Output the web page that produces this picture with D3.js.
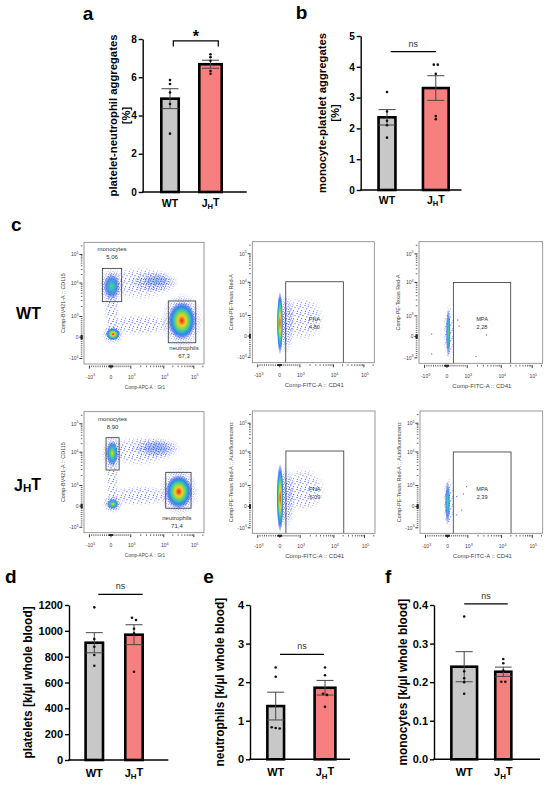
<!DOCTYPE html>
<html><head><meta charset="utf-8">
<script src="https://cdn.jsdelivr.net/npm/d3@7"></script>
<style>
body{margin:0;background:#fff;}
svg{display:block;font-family:"Liberation Sans",Arial,sans-serif;}
</style></head><body>
<svg id="c" width="550" height="787"></svg>
<script>
// ================= DATA =================
const groups = ["WT", "JHT"];

// a: platelet-neutrophil aggregates [%]
const pnaMean = [4.88, 6.68], pnaSem = [0.52, 0.21];
const pnaWT = [5.85, 5.65, 5.2, 4.6, 3.05], pnaJHT = [7.2, 7.05, 6.86, 6.33, 6.18];
const pnaTicks = [0, 2, 4, 6, 8];
// b: monocyte-platelet aggregates [%]
const mpaMean = [2.36, 3.31], mpaSem = [0.25, 0.40];
const mpaWT = [3.18, 2.55, 2.25, 2.1, 1.7], mpaJHT = [4.07, 4.07, 3.77, 2.4, 2.3];
const mpaTicks = [0, 1, 2, 3, 4, 5];
// d: platelets
const pltMean = [908, 970], pltSem = [78, 77];
const pltWT = [1182, 936, 877, 813, 730], pltJHT = [1101, 1084, 1016, 980, 683];
const pltTicks = [0, 200, 400, 600, 800, 1000, 1200];
// e: neutrophils
const neuMean = [1.38, 1.855], neuSem = [0.36, 0.19];
const neuWT = [2.38, 2.14, 0.83, 0.81, 0.80], neuJHT = [2.38, 2.18, 1.70, 1.67, 1.36];
const neuTicks = [0, 1, 2, 3, 4];
// f: monocytes
const monMean = [0.240, 0.227], monSem = [0.039, 0.012];
const monWT = [0.37, 0.228, 0.21, 0.20, 0.17], monJHT = [0.26, 0.249, 0.23, 0.201, 0.201];
const monTicks = [0, 0.1, 0.2, 0.3, 0.4];

// c: flow cytometry
const flowTickVals = [-1000, 0, 1000, 10000, 100000];
const flowTickText = [["-10","3"], ["0",""], ["10","3"], ["10","4"], ["10","5"]];
// gates: [name, percent, xmin, xmax, ymin, ymax]
const wtGates  = [["monocytes","5,06",-400,540,2780,32700], ["neutrophils","67,3",14100,116000,-260,2920]];
const jhtGates = [["monocytes","8,90",-230,410,2920,32500], ["neutrophils","71,4",11600,81000,-100,2490]];
const wtPnaGate  = [["PNA","4,80",297,21100,-6000,10400]];
const jhtPnaGate = [["PNA","6,09",297,21000,-6000,10800]];
const wtMpaGate  = [["MPA","2,28",320,20200,-6000,10000]];
const jhtMpaGate = [["MPA","2,39",280,20300,-6000,10000]];
// event clusters: [x, y, spreadX (decades), spreadY (decades), peak density level]
const wtGateClusters  = [[6000,12000,0.45,0.22,0],[30,8000,0.4,0.4,1],[40000,800,0.47,0.75,3],[100,150,0.35,0.3,3]];
const jhtGateClusters = [[6000,14000,0.5,0.25,0],[60,9300,0.3,0.4,2],[31600,700,0.45,0.7,3],[90,100,0.3,0.25,2]];
const wtPnaClusters  = [[10,635,0.15,1.25,3]];
const jhtPnaClusters = [[10,410,0.17,1.4,3]];
const wtMpaClusters  = [[70,180,0.12,1.1,1]];
const jhtMpaClusters = [[0,180,0.13,1.0,1]];
// sparse event regions: [x, y, spreadX, spreadY, density]
const wtGateSparse  = [[1900,10000,1.4,0.55,0],[5000,11000,0.8,0.35,1],[1900,600,1.3,0.5,0],[50,1600,0.35,1.0,0],[40000,800,0.7,1.1,1],[30,8000,0.6,0.6,1],[100,150,0.55,0.5,1]];
const jhtGateSparse = [[1900,11000,1.4,0.5,0],[6000,14000,0.8,0.35,1],[1900,500,1.3,0.5,0],[60,1600,0.3,1.0,0],[31600,700,0.65,1.0,1],[60,9300,0.5,0.6,1],[90,100,0.5,0.45,1]];
const wtPnaSparse  = [[1240,860,0.8,0.9,0],[300,635,0.45,1.2,1]];
const jhtPnaSparse = [[1240,790,0.8,0.9,0],[300,410,0.45,1.3,1]];
const wtMpaSparse  = [[100,180,0.26,1.3,0]];
const jhtMpaSparse = [[50,180,0.26,1.2,0]];
// isolated events
const wtMpaEvents  = [[-680,120],[530,800],[600,500],[3700,75],[1800,-940],[-680,-820]];
const jhtMpaEvents = [[450,470],[940,950],[700,-170],[450,-400],[780,600]];

// ================= SETUP =================
const svg = d3.select("#c");
const defs = svg.append("defs");
const FONT = '"Liberation Sans",Arial,sans-serif';

function radial(id, stops){
  const g = defs.append("radialGradient").attr("id", id);
  stops.forEach(s => g.append("stop").attr("offset", s[0]).attr("stop-color", s[1]).attr("stop-opacity", s[2] === undefined ? 1 : s[2]));
}
radial("lv3", [[0,"#e0241c"],[0.13,"#f2711e"],[0.27,"#f0cf28"],[0.43,"#8ed34a"],[0.58,"#2fc3b4"],[0.73,"#2d86ee"],[0.87,"#3355ee",0.5],[1,"#3355ee",0]]);
radial("lv2", [[0,"#e8d82a"],[0.22,"#7fd04c"],[0.45,"#2fc2b8"],[0.68,"#2e7fee",0.85],[0.85,"#3355ee",0.4],[1,"#3355ee",0]]);
radial("lv1", [[0,"#6fcf5a"],[0.3,"#2fbcc8"],[0.6,"#2f78ee",0.8],[0.85,"#3355ee",0.35],[1,"#3355ee",0]]);
radial("lv0", [[0,"#3a8ef0",0.5],[0.5,"#3366ee",0.3],[1,"#3355ee",0]]);
function pattern(id, size, pts, s){
  const p = defs.append("pattern").attr("id", id).attr("width", size).attr("height", size).attr("patternUnits", "userSpaceOnUse");
  pts.forEach(d => p.append("rect").attr("x", d[0]).attr("y", d[1]).attr("width", s).attr("height", s).attr("fill", "#2440f0"));
}
pattern("spk0", 8, [[0.5,1],[4.2,0.3],[6.5,3.1],[2.3,4.4],[5.1,6.2],[0.9,6.9],[3.6,2.2]], 1);
pattern("spk1", 5, [[0.3,0.4],[2.6,1.1],[4.1,2.4],[1.2,2.9],[3.2,3.9],[0.4,4.3]], 1);
const fg = defs.append("radialGradient").attr("id", "fadeGrad");
fg.append("stop").attr("offset", 0).attr("stop-color", "#fff").attr("stop-opacity", 1);
fg.append("stop").attr("offset", 0.6).attr("stop-color", "#fff").attr("stop-opacity", 0.8);
fg.append("stop").attr("offset", 1).attr("stop-color", "#fff").attr("stop-opacity", 0);
defs.append("mask").attr("id", "fade").attr("maskContentUnits", "objectBoundingBox")
  .append("rect").attr("width", 1).attr("height", 1).attr("fill", "url(#fadeGrad)");

// ================= BAR PANELS =================
const panels = [
  {letter:"a", mean:pnaMean, sem:pnaSem, pts:[pnaWT,pnaJHT], ticks:pnaTicks, ymax:8, fmt:d3.format("d"),
   title:["platelet-neutrophil aggregates","[%]"], sig:"*", sigY:7.9,
   L:{ax:142.7, yTop:39, y0:192, xEnd:246.7, cx:[170,210.5], bw:[20,25], titleX:[113,125.5], lx:82.7, ly:20,
      tickFs:10, catFs:10.5, catDy:14.5, titleFs:11.3, sigOff:[3.3,7.8]}},
  {letter:"b", mean:mpaMean, sem:mpaSem, pts:[mpaWT,mpaJHT], ticks:mpaTicks, ymax:5, fmt:d3.format("d"),
   title:["monocyte-platelet aggregates","[%]"], sig:"ns", sigY:4.49,
   L:{ax:360.7, yTop:36, y0:190, xEnd:461.5, cx:[387,435.8], bw:[19.5,28.3], titleX:[321.7,335.2], lx:295.7, ly:19,
      tickFs:10, catFs:10.5, catDy:14, titleFs:11.3, sigOff:[3.7,0.2]}},
  {letter:"d", mean:pltMean, sem:pltSem, pts:[pltWT,pltJHT], ticks:pltTicks, ymax:1200, fmt:d3.format("d"),
   title:["platelets [k/µl whole blood]"], sig:"ns", sigY:1282,
   L:{ax:69, yTop:605, y0:760, xEnd:168.3, cx:[94.3,134], bw:[20,20], titleX:[28.3], lx:5, ly:583,
      tickFs:11, catFs:11, catDy:17, titleFs:11.9, sigOff:[4,8.7]}},
  {letter:"e", mean:neuMean, sem:neuSem, pts:[neuWT,neuJHT], ticks:neuTicks, ymax:4, fmt:d3.format("d"),
   title:["neutrophils [k/µl whole blood]"], sig:"ns", sigY:2.72,
   L:{ax:250, yTop:605, y0:759.3, xEnd:350, cx:[275.7,325], bw:[19.3,23.4], titleX:[220], lx:203.3, ly:583,
      tickFs:11, catFs:11, catDy:17, titleFs:11.9, sigOff:[4.3,-1]}},
  {letter:"f", mean:monMean, sem:monSem, pts:[monWT,monJHT], ticks:monTicks, ymax:0.4, fmt:d3.format(".1f"),
   title:["monocytes [k/µl whole blood]"], sig:"ns", sigY:0.403,
   L:{ax:434, yTop:605, y0:759.3, xEnd:540, cx:[464.2,503.3], bw:[28.3,18.7], titleX:[402.7], lx:385, ly:583,
      tickFs:11, catFs:11, catDy:17, titleFs:11.9, sigOff:[0,4.4]}}
];
const barFill = ["#c8c8c8", "#f77f7f"];

function catLabel(sel, k){
  if (k === "JHT"){
    sel.append("tspan").text("J");
    sel.append("tspan").text("H").attr("font-size", "0.72em").attr("dy", "0.3em");
    sel.append("tspan").text("T").attr("dy", "-0.3em");
  } else sel.text(k);
}

panels.forEach(P => {
  const L = P.L;
  const g = svg.append("g");
  const y = d3.scaleLinear().domain([0, P.ymax]).range([L.y0, L.yTop]);
  const x = d3.scaleOrdinal().domain(groups).range(L.cx);
  const sw = 2.6;
  groups.forEach((k, i) => {
    g.append("rect")
      .attr("x", x(k) - L.bw[i]/2 + sw/2).attr("y", y(P.mean[i]))
      .attr("width", L.bw[i] - sw).attr("height", y(0) - y(P.mean[i]))
      .attr("fill", barFill[i]).attr("stroke", "#000").attr("stroke-width", sw);
  });
  groups.forEach((k, i) => {
    const cw = Math.min(17, L.bw[i] - 2);
    const top = y(P.mean[i] + P.sem[i]), bot = y(P.mean[i] - P.sem[i]);
    const eg = g.append("g").attr("stroke", "#474747").attr("stroke-width", 1);
    eg.append("line").attr("x1", x(k)).attr("x2", x(k)).attr("y1", top).attr("y2", bot);
    eg.append("line").attr("x1", x(k)-cw/2).attr("x2", x(k)+cw/2).attr("y1", top).attr("y2", top);
    eg.append("line").attr("x1", x(k)-cw/2).attr("x2", x(k)+cw/2).attr("y1", bot).attr("y2", bot);
  });
  groups.forEach((k, i) => {
    const vals = P.pts[i].slice().sort((a, b) => b - a);
    const rows = [];
    vals.forEach(v => {
      const last = rows[rows.length - 1];
      if (last && Math.abs(y(last[0]) - y(v)) < 2.6) last.push(v); else rows.push([v]);
    });
    rows.forEach(r => r.forEach((v, j) => {
      g.append("circle").attr("cx", x(k) + (j - (r.length - 1)/2) * 4).attr("cy", y(v))
        .attr("r", 1.3).attr("fill", "#111");
    }));
  });
  const ya = g.append("g").attr("transform", `translate(${L.ax},0)`)
    .call(d3.axisLeft(y).tickValues(P.ticks).tickSize(4).tickSizeOuter(0).tickPadding(2).tickFormat(P.fmt));
  ya.selectAll("path,line").attr("stroke", "#000").attr("stroke-width", 1.4);
  ya.selectAll("text").attr("font-family", FONT).attr("font-weight", "bold").attr("font-size", L.tickFs).attr("fill", "#000");
  g.append("line").attr("x1", L.ax - 0.7).attr("x2", L.xEnd).attr("y1", L.y0).attr("y2", L.y0)
    .attr("stroke", "#000").attr("stroke-width", 1.4);
  groups.forEach(k => {
    g.append("text").attr("x", x(k)).attr("y", L.y0 + L.catDy).attr("text-anchor", "middle")
      .attr("font-weight", "bold").attr("font-size", L.catFs).call(catLabel, k);
  });
  const midY = (L.y0 + L.yTop) / 2;
  P.title.forEach((t, i) => {
    g.append("text").attr("transform", `translate(${L.titleX[i]},${midY}) rotate(-90)`)
      .attr("text-anchor", "middle").attr("dominant-baseline", "central")
      .attr("font-weight", "bold").attr("font-size", L.titleFs).text(t);
  });
  const sx0 = x(groups[0]) + L.sigOff[0], sx1 = x(groups[1]) + L.sigOff[1], syv = y(P.sigY);
  const sg = g.append("g").attr("stroke", "#000").attr("stroke-width", 1.2).attr("fill", "none");
  if (P.sig === "*"){
    sg.append("path").attr("d", `M${sx0},${syv+5.7}V${syv}H${sx1}V${syv+5.7}`);
    g.append("text").attr("x", (sx0+sx1)/2).attr("y", syv + 1.5).attr("text-anchor", "middle")
      .attr("font-weight", "bold").attr("font-size", 16).text("*");
  } else {
    sg.append("line").attr("x1", sx0).attr("x2", sx1).attr("y1", syv).attr("y2", syv);
    g.append("text").attr("x", (sx0+sx1)/2).attr("y", syv - 5).attr("text-anchor", "middle")
      .attr("font-size", 9).attr("fill", "#333").text("ns");
  }
  g.append("text").attr("x", L.lx).attr("y", L.ly).attr("font-weight", "bold").attr("font-size", 19).text(P.letter);
});

// ================= FLOW PLOTS =================
const tf = v => Math.abs(v) <= 1000 ? v/1000 : Math.sign(v) * (1 + Math.log10(Math.abs(v)/1000));
const xFrac = d3.scaleLinear().domain([-1,0,1,2,3]).range([0.045,0.225,0.39,0.665,0.915]);
const yFrac = d3.scaleLinear().domain([-1,0,1,2,3]).range([0.955,0.78,0.61,0.335,0.10]);
const minorVals = [];
[10, 100].forEach(d => { for (let k = 1; k <= 9; k++) minorVals.push(k*d, -k*d); });
for (let k = 2; k <= 9; k++) minorVals.push(k*1000, -k*1000, k*10000, k*100000);

const flows = [
  {id:"wg", gates:wtGates, cl:wtGateClusters, sp:wtGateSparse, ev:[], xt:"Comp-APC-A :: Gr1", yt:"Comp-BV421-A :: CD115",
   L:{x:84, y:242.3, w:120, h:121.7, xtFs:4.6, kind:"gate", lab:[[-17,-9.5,0],[7.5,15,2]]}},
  {id:"wp", gates:wtPnaGate, cl:wtPnaClusters, sp:wtPnaSparse, ev:[], xt:"Comp-FITC-A :: CD41", yt:"Comp-PE-Texas Red-A",
   L:{x:252.3, y:241.7, w:122, h:121, xtFs:6, kind:"agg"}},
  {id:"wm", gates:wtMpaGate, cl:wtMpaClusters, sp:wtMpaSparse, ev:wtMpaEvents, xt:"Comp-FITC-A :: CD41", yt:"Comp-PE-Texas Red-A",
   L:{x:419, y:241.7, w:123.7, h:121.6, xtFs:6, kind:"agg"}},
  {id:"jg", gates:jhtGates, cl:jhtGateClusters, sp:jhtGateSparse, ev:[], xt:"Comp-APC-A :: Gr1", yt:"Comp-BV421-A :: CD115",
   L:{x:84, y:411.7, w:120, h:121, xtFs:4.6, kind:"gate", lab:[[-16.5,-8.5,0],[12,20,-1.5]]}},
  {id:"jp", gates:jhtPnaGate, cl:jhtPnaClusters, sp:jhtPnaSparse, ev:[], xt:"Comp-FITC-A :: CD41", yt:"Comp-PE-Texas Red-A :: Autofluoreszenz",
   L:{x:252.3, y:411, w:122.7, h:122.3, xtFs:6, kind:"agg"}},
  {id:"jm", gates:jhtMpaGate, cl:jhtMpaClusters, sp:jhtMpaSparse, ev:jhtMpaEvents, xt:"Comp-FITC-A :: CD41", yt:"Comp-PE-Texas Red-A :: Autofluoreszenz",
   L:{x:420, y:411, w:122.7, h:122.3, xtFs:6, kind:"agg"}}
];

function powText(sel, parts, fs){
  sel.append("tspan").text(parts[0]);
  if (parts[1]) sel.append("tspan").text(parts[1]).attr("font-size", fs*0.72).attr("dy", -fs*0.45);
}

flows.forEach(F => {
  const p = F.L;
  const g = svg.append("g");
  const sx = v => p.x + p.w * xFrac(tf(v));
  const sy = v => p.y + p.h * yFrac(tf(v));
  const ell = c => {
    const tx = tf(c[0]), ty = tf(c[1]);
    const x0 = p.x + p.w*xFrac(tx - c[2]), x1 = p.x + p.w*xFrac(tx + c[2]);
    const y0 = p.y + p.h*yFrac(ty - c[3]), y1 = p.y + p.h*yFrac(ty + c[3]);
    return {cx: sx(c[0]), cy: sy(c[1]), rx: Math.abs(x1-x0)/2, ry: Math.abs(y1-y0)/2};
  };
  defs.append("clipPath").attr("id", "clip" + F.id).append("rect")
    .attr("x", p.x).attr("y", p.y).attr("width", p.w).attr("height", p.h);
  g.append("rect").attr("x", p.x).attr("y", p.y).attr("width", p.w).attr("height", p.h).attr("fill", "#fff");
  const inner = g.append("g").attr("clip-path", `url(#clip${F.id})`);
  F.sp.forEach(c => {
    const e = ell(c);
    inner.append("ellipse").attr("cx", e.cx).attr("cy", e.cy).attr("rx", e.rx).attr("ry", e.ry)
      .attr("fill", `url(#spk${c[4]})`).attr("mask", "url(#fade)");
  });
  F.cl.slice().sort((a, b) => a[4] - b[4]).forEach(c => {
    const e = ell(c);
    inner.append("ellipse").attr("cx", e.cx).attr("cy", e.cy).attr("rx", e.rx).attr("ry", e.ry)
      .attr("fill", `url(#lv${c[4]})`);
  });
  F.ev.forEach(d => {
    inner.append("rect").attr("x", sx(d[0]) - 0.5).attr("y", sy(d[1]) - 0.5).attr("width", 1).attr("height", 1).attr("fill", "#3045ee");
  });
  F.gates.forEach((gt, i) => {
    const gx0 = sx(gt[2]), gx1 = sx(gt[3]), gy0 = sy(gt[5]), gy1 = sy(gt[4]);
    inner.append("rect").attr("x", gx0).attr("y", gy0).attr("width", gx1 - gx0).attr("height", gy1 - gy0)
      .attr("fill", "none").attr("stroke", "#333").attr("stroke-width", 0.8);
    const lg = g.append("g").attr("text-anchor", "middle").attr("fill", "#333");
    if (p.kind === "gate"){
      const o = p.lab[i], cxm = (gx0 + gx1)/2 + o[2];
      const base = i === 0 ? gy0 : gy1;
      lg.append("text").attr("x", cxm).attr("y", base + o[0]).attr("font-size", 6).text(gt[0]);
      lg.append("text").attr("x", cxm).attr("y", base + o[1]).attr("font-size", 6).text(gt[1]);
    } else {
      const cxm = (gx0 + gx1)/2, ly = sy(830) + 2;
      lg.append("text").attr("x", cxm).attr("y", ly).attr("font-size", 5.6).text(gt[0]);
      lg.append("text").attr("x", cxm).attr("y", ly + 7.5).attr("font-size", 5.6).text(gt[1]);
    }
  });
  g.append("rect").attr("x", p.x).attr("y", p.y).attr("width", p.w).attr("height", p.h)
    .attr("fill", "none").attr("stroke", "#808080").attr("stroke-width", 0.8);
  const tg = g.append("g").attr("stroke", "#222").attr("stroke-width", 0.7);
  const fb = p.y + p.h;
  minorVals.forEach(v => {
    const xv = sx(v);
    if (xv > p.x + 0.5 && xv < p.x + p.w - 0.5) tg.append("line").attr("x1", xv).attr("x2", xv).attr("y1", fb + 1.6).attr("y2", fb + 3.2);
    const yv = sy(v);
    if (yv > p.y + 0.5 && yv < fb - 0.5) tg.append("line").attr("y1", yv).attr("y2", yv).attr("x1", p.x - 1.6).attr("x2", p.x - 3.2);
  });
  flowTickVals.forEach((v, i) => {
    const xv = sx(v), yv = sy(v);
    tg.append("line").attr("x1", xv).attr("x2", xv).attr("y1", fb + 1.6).attr("y2", fb + 4.6).attr("stroke-width", 0.9);
    tg.append("line").attr("y1", yv).attr("y2", yv).attr("x1", p.x - 1.6).attr("x2", p.x - 4.6).attr("stroke-width", 0.9);
    g.append("text").attr("x", xv + (flowTickText[i][1] ? 1 : 0)).attr("y", fb + 14.5).attr("text-anchor", "middle")
      .attr("font-size", 5).attr("fill", "#444").call(powText, flowTickText[i], 5);
    g.append("text").attr("x", p.x - 5.5).attr("y", yv + 1.8).attr("text-anchor", "end")
      .attr("font-size", 5).attr("fill", "#444").call(powText, flowTickText[i], 5);
  });
  g.append("text").attr("x", p.x + p.w/2 + 1).attr("y", fb + 24.5).attr("text-anchor", "middle")
    .attr("font-size", p.xtFs).attr("fill", "#444").text(F.xt);
  g.append("text").attr("transform", `translate(${p.x - 21},${p.y + p.h/2}) rotate(-90)`)
    .attr("text-anchor", "middle").attr("dominant-baseline", "central")
    .attr("font-size", 5.4).attr("fill", "#444").text(F.yt);
});

svg.append("text").attr("x", 11).attr("y", 231).attr("font-weight", "bold").attr("font-size", 19).text("c");
svg.append("text").attr("x", 28.5).attr("y", 313).attr("text-anchor", "middle").attr("dominant-baseline", "central")
  .attr("font-weight", "bold").attr("font-size", 16).text("WT");
svg.append("text").attr("x", 27.5).attr("y", 485).attr("text-anchor", "middle").attr("dominant-baseline", "central")
  .attr("font-weight", "bold").attr("font-size", 16).call(catLabel, "JHT");
</script>
</body></html>
